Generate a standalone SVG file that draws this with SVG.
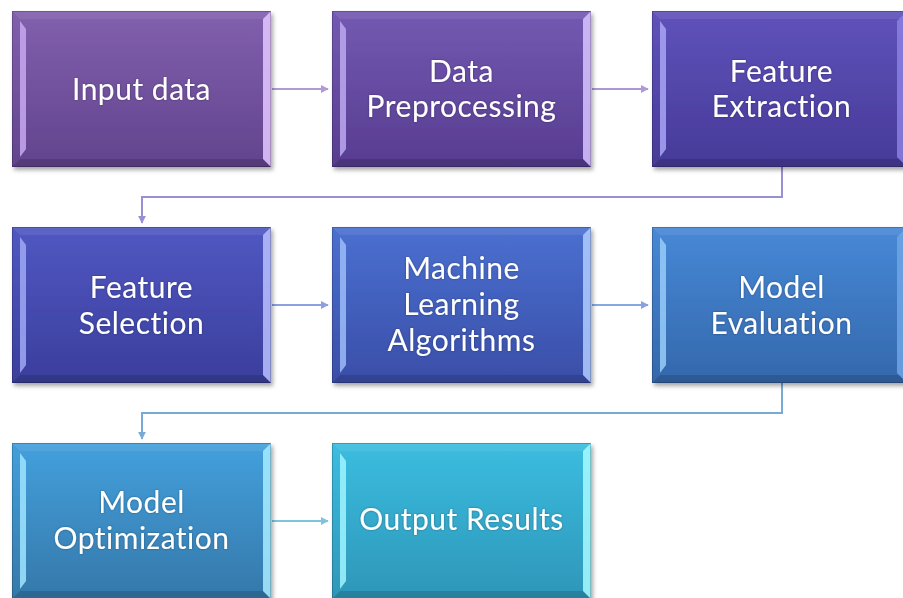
<svg xmlns="http://www.w3.org/2000/svg" width="903" height="598" viewBox="0 0 903 598">
<defs>
<filter id="sh" x="-5%" y="-5%" width="115%" height="115%">
<feDropShadow dx="2" dy="3" stdDeviation="2" flood-color="#000" flood-opacity="0.35"/>
</filter>
<filter id="tg" x="-10%" y="-20%" width="120%" height="140%">
<feDropShadow dx="0" dy="0" stdDeviation="1" flood-color="#000" flood-opacity="0.35"/>
</filter>
<linearGradient id="g1" x1="0" y1="0" x2="0" y2="1"><stop offset="0" stop-color="#8160ae"/><stop offset="1" stop-color="#62438d"/></linearGradient>
<linearGradient id="g2" x1="0" y1="0" x2="0" y2="1"><stop offset="0" stop-color="#7459b2"/><stop offset="1" stop-color="#573c90"/></linearGradient>
<linearGradient id="g3" x1="0" y1="0" x2="0" y2="1"><stop offset="0" stop-color="#5f52ba"/><stop offset="1" stop-color="#463a98"/></linearGradient>
<linearGradient id="g4" x1="0" y1="0" x2="0" y2="1"><stop offset="0" stop-color="#5058c2"/><stop offset="1" stop-color="#3a3e9c"/></linearGradient>
<linearGradient id="g5" x1="0" y1="0" x2="0" y2="1"><stop offset="0" stop-color="#4a70d0"/><stop offset="1" stop-color="#3a4ea8"/></linearGradient>
<linearGradient id="g6" x1="0" y1="0" x2="0" y2="1"><stop offset="0" stop-color="#4788d6"/><stop offset="1" stop-color="#3468ac"/></linearGradient>
<linearGradient id="g7" x1="0" y1="0" x2="0" y2="1"><stop offset="0" stop-color="#43a0dc"/><stop offset="1" stop-color="#3578aa"/></linearGradient>
<linearGradient id="g8" x1="0" y1="0" x2="0" y2="1"><stop offset="0" stop-color="#3bbde0"/><stop offset="1" stop-color="#2e96b8"/></linearGradient>
<marker id="ap" viewBox="0 0 10 10" refX="9" refY="5" markerWidth="4" markerHeight="4" orient="auto"><path d="M0,0 L10,5 L0,10 z" fill="#b09ad6"/></marker>
<marker id="ab" viewBox="0 0 10 10" refX="9" refY="5" markerWidth="4" markerHeight="4" orient="auto"><path d="M0,0 L10,5 L0,10 z" fill="#8c9fe0"/></marker>
<marker id="ac" viewBox="0 0 10 10" refX="9" refY="5" markerWidth="4" markerHeight="4" orient="auto"><path d="M0,0 L10,5 L0,10 z" fill="#7cc4e0"/></marker>
<marker id="ae1" viewBox="0 0 10 10" refX="9" refY="5" markerWidth="4" markerHeight="4" orient="auto"><path d="M0,0 L10,5 L0,10 z" fill="#9890d4"/></marker>
<marker id="ae2" viewBox="0 0 10 10" refX="9" refY="5" markerWidth="4" markerHeight="4" orient="auto"><path d="M0,0 L10,5 L0,10 z" fill="#78aad8"/></marker>
</defs>
<style>
.lbl{font-family:Lato,"Open Sans","Liberation Sans",sans-serif;font-size:30px;letter-spacing:0.5px;fill:#fff;text-anchor:middle;filter:url(#tg)}
.top{fill:#fff;fill-opacity:0.08}
.bot{fill:#000;fill-opacity:0.14}
.lft{fill-opacity:0.85}
.rgt{fill-opacity:0.85}
.edge{fill:none;stroke:#000;stroke-opacity:0.2;stroke-width:1}
.c{fill:none;stroke-width:2}
</style>
<g id="connectors">
<line class="c" x1="272" y1="89" x2="328" y2="89" stroke="#b09ad6" marker-end="url(#ap)"/>
<line class="c" x1="592" y1="89" x2="648" y2="89" stroke="#a898d6" marker-end="url(#ap)"/>
<polyline class="c" points="782,167 782,197 142,197 142,223" stroke="#9890d4" marker-end="url(#ae1)"/>
<line class="c" x1="272" y1="305" x2="328" y2="305" stroke="#8c9fe0" marker-end="url(#ab)"/>
<line class="c" x1="592" y1="305" x2="648" y2="305" stroke="#86a8e0" marker-end="url(#ab)"/>
<polyline class="c" points="782,383 782,413 142,413 142,439" stroke="#78aad8" marker-end="url(#ae2)"/>
<line class="c" x1="272" y1="521" x2="328" y2="521" stroke="#7cc4e0" marker-end="url(#ac)"/>
</g>
<g id="n1">
<rect x="12" y="11" width="259" height="156" fill="url(#g1)" filter="url(#sh)"/>
<polygon class="top" points="12,11 271,11 263,19 20,19"/>
<polygon class="bot" points="12,167 271,167 263,159 20,159"/>
<polygon class="lft" fill="#c8a8f0" points="20,21 26,29 26,149 20,157"/>
<polygon class="rgt" fill="#e4c8ff" points="263,19 271,11 271,167 263,159"/>
<rect class="edge" x="12.5" y="11.5" width="258" height="155"/>
<text class="lbl" x="141.5" y="100">Input data</text>
</g>
<g id="n2">
<rect x="332" y="11" width="259" height="156" fill="url(#g2)" filter="url(#sh)"/>
<polygon class="top" points="332,11 591,11 583,19 340,19"/>
<polygon class="bot" points="332,167 591,167 583,159 340,159"/>
<polygon class="lft" fill="#bca8f0" points="340,21 346,29 346,149 340,157"/>
<polygon class="rgt" fill="#d8c4ff" points="583,19 591,11 591,167 583,159"/>
<rect class="edge" x="332.5" y="11.5" width="258" height="155"/>
<text class="lbl" x="461.5" y="81.5">Data</text>
<text class="lbl" x="461.5" y="117">Preprocessing</text>
</g>
<g id="n3">
<rect x="652" y="11" width="259" height="156" fill="url(#g3)" filter="url(#sh)"/>
<polygon class="top" points="652,11 911,11 903,19 660,19"/>
<polygon class="bot" points="652,167 911,167 903,159 660,159"/>
<polygon class="lft" fill="#a8a4f4" points="660,21 666,29 666,149 660,157"/>
<polygon class="rgt" fill="#8880e0" points="897,21 903,15 903,163 897,157"/>
<rect class="edge" x="652.5" y="11.5" width="258" height="155"/>
<text class="lbl" x="781.5" y="81.5">Feature</text>
<text class="lbl" x="781.5" y="117">Extraction</text>
</g>
<g id="n4">
<rect x="12" y="227" width="259" height="156" fill="url(#g4)" filter="url(#sh)"/>
<polygon class="top" points="12,227 271,227 263,235 20,235"/>
<polygon class="bot" points="12,383 271,383 263,375 20,375"/>
<polygon class="lft" fill="#a0a8f4" points="20,237 26,245 26,365 20,373"/>
<polygon class="rgt" fill="#b8c0ff" points="263,235 271,227 271,383 263,375"/>
<rect class="edge" x="12.5" y="227.5" width="258" height="155"/>
<text class="lbl" x="141.5" y="298">Feature</text>
<text class="lbl" x="141.5" y="334">Selection</text>
</g>
<g id="n5">
<rect x="332" y="227" width="259" height="156" fill="url(#g5)" filter="url(#sh)"/>
<polygon class="top" points="332,227 591,227 583,235 340,235"/>
<polygon class="bot" points="332,383 591,383 583,375 340,375"/>
<polygon class="lft" fill="#9cbcf8" points="340,237 346,245 346,365 340,373"/>
<polygon class="rgt" fill="#b0ccff" points="583,235 591,227 591,383 583,375"/>
<rect class="edge" x="332.5" y="227.5" width="258" height="155"/>
<text class="lbl" x="461.5" y="279">Machine</text>
<text class="lbl" x="461.5" y="315">Learning</text>
<text class="lbl" x="461.5" y="351">Algorithms</text>
</g>
<g id="n6">
<rect x="652" y="227" width="259" height="156" fill="url(#g6)" filter="url(#sh)"/>
<polygon class="top" points="652,227 911,227 903,235 660,235"/>
<polygon class="bot" points="652,383 911,383 903,375 660,375"/>
<polygon class="lft" fill="#98ccf8" points="660,237 666,245 666,365 660,373"/>
<polygon class="rgt" fill="#6ea4e4" points="897,237 903,231 903,379 897,373"/>
<rect class="edge" x="652.5" y="227.5" width="258" height="155"/>
<text class="lbl" x="781.5" y="298">Model</text>
<text class="lbl" x="781.5" y="334">Evaluation</text>
</g>
<g id="n7">
<rect x="12" y="443" width="259" height="156" fill="url(#g7)" filter="url(#sh)"/>
<polygon class="top" points="12,443 271,443 263,451 20,451"/>
<polygon class="bot" points="12,599 271,599 263,591 20,591"/>
<polygon class="lft" fill="#a0e4ff" points="20,453 26,461 26,581 20,589"/>
<polygon class="rgt" fill="#a8ecff" points="263,451 271,443 271,599 263,591"/>
<rect class="edge" x="12.5" y="443.5" width="258" height="155"/>
<text class="lbl" x="141.5" y="513">Model</text>
<text class="lbl" x="141.5" y="549">Optimization</text>
</g>
<g id="n8">
<rect x="332" y="443" width="259" height="156" fill="url(#g8)" filter="url(#sh)"/>
<polygon class="top" points="332,443 591,443 583,451 340,451"/>
<polygon class="bot" points="332,599 591,599 583,591 340,591"/>
<polygon class="lft" fill="#a0f4ff" points="340,453 346,461 346,581 340,589"/>
<polygon class="rgt" fill="#a8faff" points="583,451 591,443 591,599 583,591"/>
<rect class="edge" x="332.5" y="443.5" width="258" height="155"/>
<text class="lbl" x="461.5" y="530">Output Results</text>
</g>
</svg>
